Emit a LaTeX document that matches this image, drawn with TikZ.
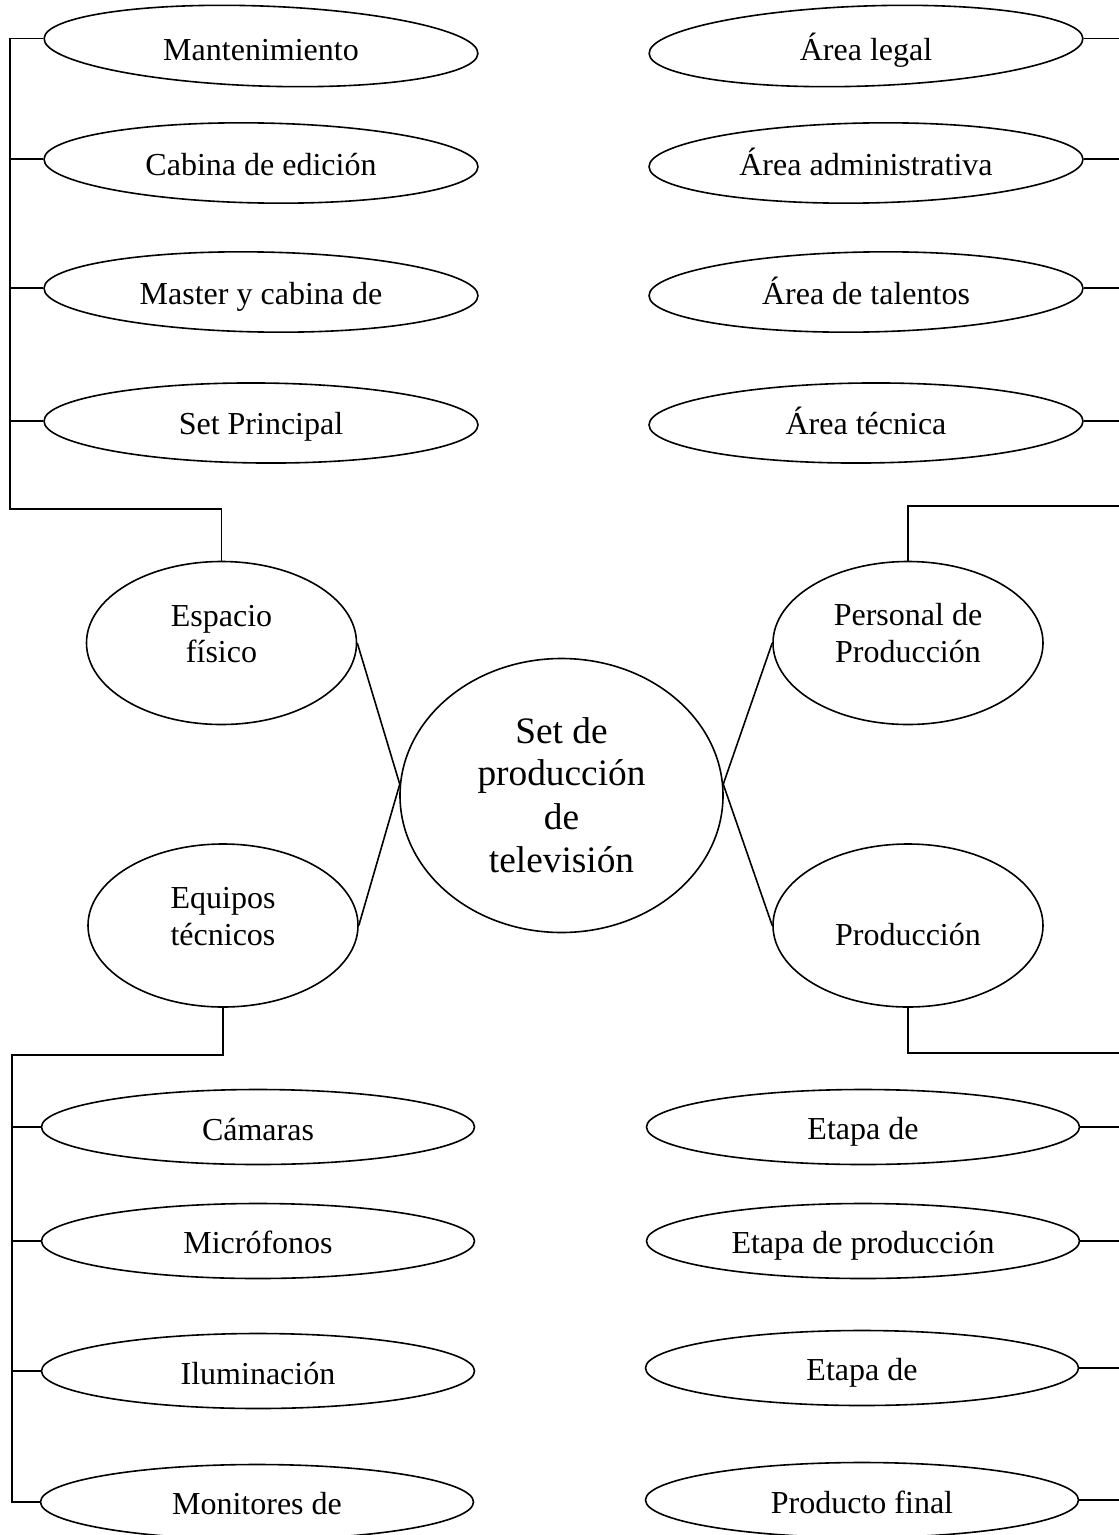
\documentclass[tikz,border=0pt]{standalone}
\usepackage{fontspec}
\setmainfont{Liberation Serif}
\usetikzlibrary{shapes.geometric}
\begin{document}
\begin{tikzpicture}[x=0.75pt,y=-0.75pt,line width=1.2pt,
  oval/.style={draw,ellipse,inner sep=0pt},
  ovalW/.style={oval,minimum width=434*0.75pt,minimum height=80*0.75pt},
  ovalB/.style={oval,minimum width=433*0.75pt,minimum height=75*0.75pt},
  ovalM/.style={oval,minimum width=270*0.75pt,minimum height=163*0.75pt},
  ovalC/.style={oval,minimum width=323*0.75pt,minimum height=274*0.75pt},
  txt/.style={inner sep=0pt,anchor=base,font=\fontsize{24}{26}\selectfont},
  bigtxt/.style={inner sep=0pt,anchor=base,font=\fontsize{28}{32}\selectfont}]
\useasboundingbox (0,0) rectangle (1118,1535);

% ---- left top group
\node[ovalW,rotate=-2] (m1) at (261,46) {};
\node[txt] (m1t) at (261,60) {Mantenimiento};
\node[ovalW,rotate=-1] (m2) at (261,163) {};
\node[txt] (m2t) at (261,175) {Cabina de edición};
\node[ovalW,rotate=-1] (m3) at (261,292) {};
\node[txt] (m3t) at (261,304) {Master y cabina de};
\node[ovalW,rotate=-0.5] (m4) at (261,423) {};
\node[txt] (m4t) at (261,434) {Set Principal};

% ---- right top group
\node[ovalW,rotate=2] (r1) at (866,46) {};
\node[txt] (r1t) at (866,60) {Área legal};
\node[ovalW,rotate=1] (r2) at (866,163) {};
\node[txt] (r2t) at (866,175) {Área administrativa};
\node[ovalW,rotate=1] (r3) at (866,292) {};
\node[txt] (r3t) at (866,304) {Área de talentos};
\node[ovalW,rotate=0.5] (r4) at (866,423) {};
\node[txt] (r4t) at (866,434) {Área técnica};

% ---- middle
\node[ovalM] (esp) at (221.5,643) {};
\node[txt] (esp1) at (221.5,626) {Espacio};
\node[txt] (esp2) at (221.5,662) {físico};
\node[ovalM] (pers) at (908,643) {};
\node[txt] (pers1) at (908,625) {Personal de};
\node[txt] (pers2) at (908,662) {Producción};
\node[ovalC] (cen) at (561.5,795.5) {};
\node[bigtxt] (cen1) at (561.5,743) {Set de};
\node[bigtxt] (cen2) at (561.5,785) {producción};
\node[bigtxt] (cen3) at (561.5,829) {de};
\node[bigtxt] (cen4) at (561.5,872) {televisión};
\node[ovalM] (equ) at (223,925.5) {};
\node[txt] (equ1) at (223,908) {Equipos};
\node[txt] (equ2) at (223,945) {técnicos};
\node[ovalM] (prod) at (908,925.5) {};
\node[txt] (prodt) at (908,945) {Producción};

% ---- left bottom group
\node[ovalB] (b1) at (258,1127) {};
\node[txt] (b1t) at (258,1140) {Cámaras};
\node[ovalB] (b2) at (258,1241) {};
\node[txt] (b2t) at (258,1253) {Micrófonos};
\node[ovalB] (b3) at (258,1371) {};
\node[txt] (b3t) at (258,1384) {Iluminación};
\node[ovalB] (b4) at (257,1502) {};
\node[txt] (b4t) at (257,1514) {Monitores de};

% ---- right bottom group
\node[ovalB] (c1) at (863,1127) {};
\node[txt] (c1t) at (863,1139) {Etapa de};
\node[ovalB] (c2) at (863,1241) {};
\node[txt] (c2t) at (863,1253) {Etapa de producción};
\node[ovalB] (c3) at (862,1368) {};
\node[txt] (c3t) at (862,1380) {Etapa de};
\node[ovalB] (c4) at (862,1500) {};
\node[txt] (c4t) at (862,1513) {Producto final};

% ---- connectors: centre
\draw (esp.east) -- (cen.176);
\draw (equ.east) -- (cen.176);
\draw (pers.west) -- (cen.4);
\draw (prod.west) -- (cen.4);

% ---- connectors: left top
\coordinate (jl) at (10,509);
\draw (m1.west) -- (m1.west -| jl) -- (jl) -- (jl -| esp.north) -- (esp.north);
\draw (m2.west) -- (m2.west -| jl);
\draw (m3.west) -- (m3.west -| jl);
\draw (m4.west) -- (m4.west -| jl);

% ---- connectors: right top
\coordinate (jr) at (1125,506);
\draw (pers.north) -- (pers.north |- jr) -- (jr) -- (jr |- r1.east) -- (r1.east);
\draw (r2.east) -- (r2.east -| jr);
\draw (r3.east) -- (r3.east -| jr);
\draw (r4.east) -- (r4.east -| jr);

% ---- connectors: left bottom
\coordinate (bl) at (12,1055);
\draw (equ.south) -- (equ.south |- bl) -- (bl) -- (bl |- b4.west) -- (b4.west);
\draw (b1.west) -- (b1.west -| bl);
\draw (b2.west) -- (b2.west -| bl);
\draw (b3.west) -- (b3.west -| bl);

% ---- connectors: right bottom
\coordinate (br) at (1125,1053);
\draw (prod.south) -- (prod.south |- br) -- (br) -- (br |- c4.east) -- (c4.east);
\draw (c1.east) -- (c1.east -| br);
\draw (c2.east) -- (c2.east -| br);
\draw (c3.east) -- (c3.east -| br);
\end{tikzpicture}
\end{document}
